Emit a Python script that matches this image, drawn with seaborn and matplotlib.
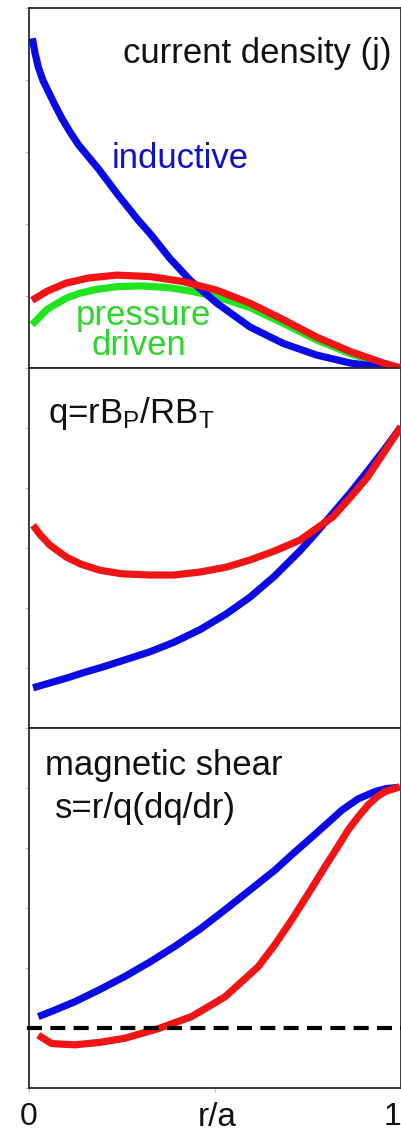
import matplotlib
matplotlib.use("Agg")
import matplotlib.pyplot as plt
import seaborn as sns

# ---- profiles vs normalised minor radius r/a ----
# current density (j)
r_j_ind = [0.009, 0.016, 0.025, 0.037, 0.052, 0.07, 0.088, 0.11, 0.133, 0.186, 0.24,
           0.294, 0.325, 0.379, 0.433, 0.505, 0.594, 0.684, 0.773, 0.863, 0.935, 0.97]
j_ind = [4.58, 4.38, 4.18, 4.0, 3.84, 3.65, 3.47, 3.28, 3.10, 2.77, 2.40,
         2.05, 1.87, 1.52, 1.22, 0.90, 0.57, 0.34, 0.18, 0.07, 0.02, 0.0]
r_j_ped = [0.008, 0.05, 0.10, 0.137, 0.18, 0.236, 0.30, 0.37, 0.433, 0.505,
           0.594, 0.684, 0.773, 0.863, 0.952, 1.0]
j_ped = [0.6, 0.82, 0.97, 1.04, 1.09, 1.13, 1.14, 1.12, 1.07, 0.99,
         0.84, 0.62, 0.39, 0.2, 0.05, 0.0]
r_j_tot = [0.008, 0.05, 0.10, 0.16, 0.236, 0.325, 0.415, 0.505, 0.594, 0.684,
           0.773, 0.863, 0.952, 1.0]
j_tot = [0.94, 1.07, 1.18, 1.25, 1.29, 1.27, 1.20, 1.08, 0.90, 0.67,
         0.43, 0.23, 0.07, 0.0]

# safety factor q
r_q_ind = [0.011, 0.05, 0.10, 0.145, 0.2, 0.25, 0.325, 0.39, 0.46, 0.53, 0.594,
           0.66, 0.728, 0.77, 0.817, 0.865, 0.91, 0.955, 1.0]
q_ind = [0.67, 0.74, 0.83, 0.92, 1.02, 1.12, 1.27, 1.43, 1.64, 1.9, 2.18,
         2.53, 2.95, 3.24, 3.58, 3.93, 4.28, 4.64, 5.02]
r_q_rev = [0.011, 0.03, 0.056, 0.10, 0.14, 0.19, 0.25, 0.325, 0.39, 0.46, 0.53,
           0.594, 0.66, 0.728, 0.817, 0.865, 0.91, 0.955, 1.0]
q_rev = [3.38, 3.22, 3.05, 2.85, 2.73, 2.63, 2.57, 2.55, 2.55, 2.6, 2.68,
         2.8, 2.95, 3.13, 3.52, 3.85, 4.18, 4.6, 5.02]

# magnetic shear s
r_s_ind = [0.025, 0.07, 0.124, 0.19, 0.258, 0.325, 0.392, 0.46, 0.527, 0.594,
           0.661, 0.705, 0.751, 0.8, 0.841, 0.885, 0.93, 0.96, 0.993]
s_ind = [0.19, 0.3, 0.44, 0.64, 0.86, 1.1, 1.36, 1.65, 1.97, 2.3,
         2.63, 2.88, 3.13, 3.4, 3.63, 3.82, 3.94, 3.99, 4.01]
r_s_rev = [0.025, 0.061, 0.124, 0.19, 0.258, 0.348, 0.437, 0.527, 0.616, 0.66,
           0.706, 0.75, 0.796, 0.828, 0.858, 0.885, 0.912, 0.935, 0.957, 0.997]
s_rev = [-0.12, -0.26, -0.28, -0.24, -0.17, -0.01, 0.19, 0.52, 1.02, 1.38,
         1.8, 2.23, 2.69, 3.0, 3.3, 3.52, 3.72, 3.85, 3.94, 4.02]

x_tick_labels = ["0", "", "1"]

BLUE = "#0b0be6"
RED = "#f01414"
GREEN = "#1ee61e"
LW = 5.2

sns.set_theme(style="white")
plt.rcParams["font.family"] = ["Liberation Sans", "DejaVu Sans"]
plt.rcParams["mathtext.default"] = "regular"

W, H = 402, 1134
fig = plt.figure(figsize=(W / 100, H / 100), dpi=100)


def panel(top_px, bottom_px):
    return fig.add_axes([29 / W, 1 - bottom_px / H, 372 / W, (bottom_px - top_px) / H])


ax1 = panel(8, 368)
ax2 = panel(368, 728)
ax3 = panel(728, 1088)


def line(ax, x, y, color, z):
    sns.lineplot(x=x, y=y, ax=ax, color=color, linewidth=LW, zorder=z,
                 solid_capstyle="butt", solid_joinstyle="round", legend=False)


line(ax1, r_j_ped, j_ped, GREEN, 2)
line(ax1, r_j_ind, j_ind, BLUE, 3)
line(ax1, r_j_tot, j_tot, RED, 4)

line(ax2, r_q_ind, q_ind, BLUE, 3)
line(ax2, r_q_rev, q_rev, RED, 4)

line(ax3, r_s_ind, s_ind, BLUE, 3)
line(ax3, r_s_rev, s_rev, RED, 4)
ax3.axhline(0, xmin=-0.006, color="black", linewidth=3, dashes=(3.6, 2.0),
            zorder=5, clip_on=False)

for ax, (lo, hi) in zip((ax1, ax2, ax3), ((0, 5), (0, 6), (-1, 5))):
    ax.set_xlim(0, 1)
    ax.set_ylim(lo, hi)
    ax.set_yticks(range(lo, hi + 1))
    ax.set_yticklabels([])
    ax.set_xticks([0, 0.5, 1])
    ax.set_xticklabels([])
    ax.set_xlabel("")
    ax.set_ylabel("")
    ax.tick_params(axis="both", direction="out", length=3, width=0.8,
                   color="#c4c4c4", left=True, bottom=True)
    for sp in ax.spines.values():
        sp.set_color("#2b2b2b")
        sp.set_linewidth(1.3)
    ax.set_facecolor("white")

ax3.set_xticklabels(x_tick_labels, fontsize=23, color="#111111")
ax3.tick_params(axis="x", pad=7)
ax3.get_xticklabels()[0].set_x(-0.012)
ax3.get_xticklabels()[2].set_ha("right")

FS = 25
ax1.text(0.613, 0.847, "current density (j)", transform=ax1.transAxes,
         ha="center", va="baseline", fontsize=FS, color="#111111")
ax1.text(0.406, 0.556, "inductive", transform=ax1.transAxes,
         ha="center", va="baseline", fontsize=FS, color="#1010cc")
ax1.text(0.307, 0.119, "pressure", transform=ax1.transAxes,
         ha="center", va="baseline", fontsize=FS, color="#2ad62a")
ax1.text(0.295, 0.036, "driven", transform=ax1.transAxes,
         ha="center", va="baseline", fontsize=FS, color="#2ad62a")

ax2.text(0.051, 0.847, r"q=rB$_P$/RB$_T$", transform=ax2.transAxes,
         ha="left", va="baseline", fontsize=FS, color="#111111")

ax3.text(0.043, 0.869, "magnetic shear", transform=ax3.transAxes,
         ha="left", va="baseline", fontsize=FS, color="#111111")
ax3.text(0.070, 0.75, "s=r/q(dq/dr)", transform=ax3.transAxes,
         ha="left", va="baseline", fontsize=FS, color="#111111")
ax3.text(0.507, -0.106, "r/a", transform=ax3.transAxes,
         ha="center", va="baseline", fontsize=FS - 1, color="#111111")

fig.savefig("out.png", dpi=100, facecolor="white")
